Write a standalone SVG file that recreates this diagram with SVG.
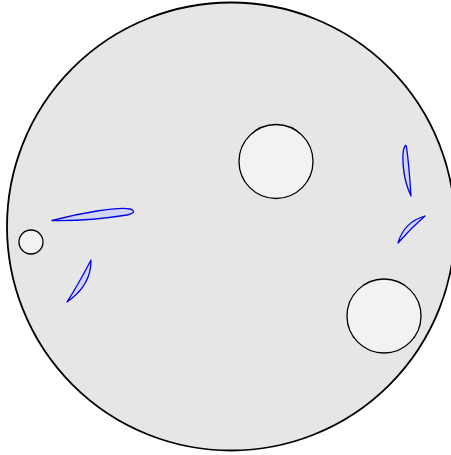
<svg xmlns="http://www.w3.org/2000/svg" width="451" height="455" viewBox="0 0 451 455">
<style>
.body{fill:#e6e6e6;stroke:#000;stroke-width:1.8}
.hole{fill:#f2f2f2;stroke:#000;stroke-width:1.3}
.lens{fill:#d2d5f3;stroke:#0000ee;stroke-width:1.3;stroke-linejoin:round}
</style>
<rect width="451" height="455" fill="#fff"/>
<g id="disc"><circle class="body" cx="231" cy="226.5" r="224"/></g>
<g id="hole-upper"><circle class="hole" cx="276" cy="161.5" r="37"/></g>
<g id="hole-lower"><circle class="hole" cx="384" cy="316" r="37"/></g>
<g id="hole-small"><circle class="hole" cx="31" cy="242" r="12"/></g>
<g id="lens-1"><path class="lens" d="M52,220.5 C80,213 118,206.5 130,209 C136,210.5 134,213.5 127,215 C105,218.5 75,221 52,220.5 Z"/></g>
<g id="lens-2"><path class="lens" d="M91,260 Q91.5,285 67,302 Q78,285 91,260 Z"/></g>
<g id="lens-3"><path class="lens" d="M405,146 C402,150 401,175 411,196 Q409,165 406.5,147 C406,145 405.5,145 405,146 Z"/></g>
<g id="lens-4"><path class="lens" d="M425,216 Q404,222 398,243 Q411,228 425,216 Z"/></g>
</svg>
